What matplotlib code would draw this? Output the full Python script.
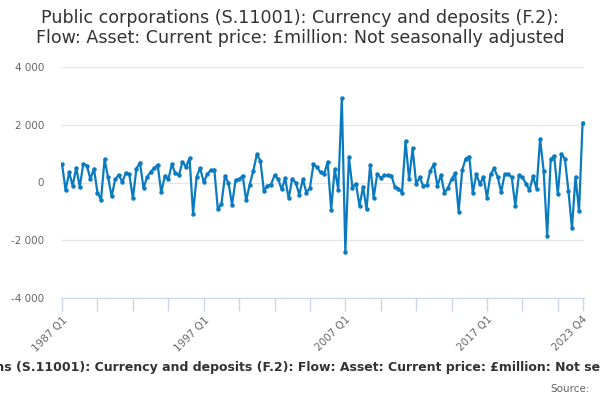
import numpy as np
import matplotlib.pyplot as plt

# quarterly values, 1987 Q1 .. 2023 Q4 (£million)
valores = [
    630, -270, 350, -120, 515, -150, 655, 585, 120, 480,
    -350, -600, 800, 175, -480, 105, 270, 10, 340, 280,
    -550, 480, 690, -190, 175, 375, 490, 610, -340, 210,
    105, 630, 315, 255, 715, 540, 840, -1075, 200, 500,
    10, 285, 430, 440, -935, -740, 220, -10, -770, 80,
    105, 235, -620, -70, 400, 970, 760, -290, -115, -70,
    245, 130, -235, 140, -550, 130, -10, -420, 115, -350,
    -185, 630, 525, 350, 290, 715, -950, 470, -245, 2925,
    -2400, 880, -175, -35, -820, -150, -935, 610, -525, 290,
    165, 245, 245, 235, -150, -210, -360, 1425, 115, 1180,
    -45, 175, -115, -95, 410, 630, -115, 255, -360, -185,
    115, 315, -1005, 430, 830, 900, -360, 290, -60, 200,
    -525, 280, 490, 200, -330, 290, 290, 175, -810, 245,
    175, -35, -270, 210, -220, 1510, 410, -1850, 805, 925,
    -410, 995, 820, -290, -1580, 200, -995, 2070,
]
trimestres = [f'{ano} Q{q}' for ano in range(1987, 2024) for q in range(1, 5)]
ticks_lab = ['1987 Q1', '1997 Q1', '2007 Q1', '2017 Q1', '2023 Q4']
yticks = [-4000, -2000, 0, 2000, 4000]

titulo = ('Public corporations (S.11001): Currency and deposits (F.2):\n'
          'Flow: Asset: Current price: £million: Not seasonally adjusted')
serie = ('Public corporations (S.11001): Currency and deposits (F.2): Flow: Asset: '
         'Current price: £million: Not seasonally adjusted')

x = np.arange(len(valores))

fig = plt.figure(figsize=(6, 4), dpi=100)
ax = fig.add_axes([61/600, 1 - 298/400, 523/600, 231/400])

ax.plot(x, valores, color='#0a7bc1', lw=1.6, marker='o', ms=2.2, zorder=3)

ax.set_xlim(-0.3, len(valores) - 0.6)
ax.set_ylim(-4000, 4000)
ax.set_yticks(yticks)
ax.set_yticklabels([f'{v:,}'.replace(',', ' ') for v in yticks])
ax.grid(axis='y', color='#e6e6e6', lw=1)
ax.set_axisbelow(True)

# minor ticks every 10 quarters, labels only at the chosen points
ax.set_xticks(list(range(0, len(valores), 10)) + [len(valores) - 1], minor=True)
ax.set_xticks([trimestres.index(t) for t in ticks_lab])
ax.set_xticklabels(ticks_lab, rotation=45, ha='right', rotation_mode='anchor')
ax.tick_params(axis='x', which='both', length=9, color='#ccd6eb', width=1,
               labelsize=7.5, labelcolor='#666666', pad=3)
ax.tick_params(axis='y', length=0, labelsize=7.5, labelcolor='#666666', pad=12)

for s in ['top', 'right', 'left']:
    ax.spines[s].set_visible(False)
ax.spines['bottom'].set_color('#ccd6eb')

fig.text(0.5, 1 - 28/400, titulo, ha='center', va='center', fontsize=12.6,
         color='#333333', linespacing=1.2)
# the series name is wider than the figure and gets cut at both edges, as in the original
fig.text(0.5, 1 - 367/400, serie, ha='center', va='center', fontsize=9.0,
         fontweight='bold', color='#333333')
fig.text(590/600, 1 - 389/400, 'Source:', ha='right', va='center', fontsize=7.5,
         color='#666666')

plt.savefig('out.png', dpi=100)
